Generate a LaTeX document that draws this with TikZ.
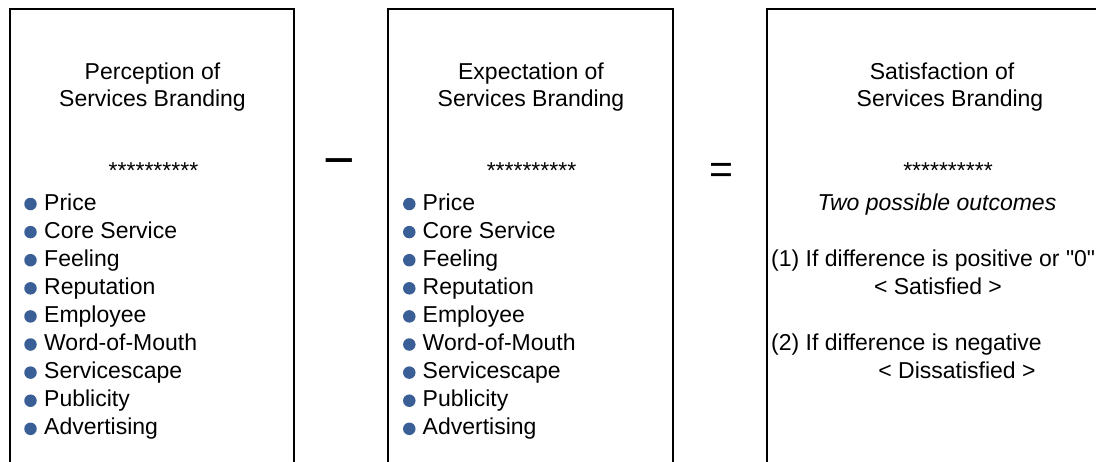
\documentclass[tikz,border=0pt]{standalone}
\usepackage{fontspec}
\setmainfont{Liberation Sans}[Ligatures=TeXOff]
\definecolor{bulletblue}{RGB}{58,95,150}
\begin{document}
\begin{tikzpicture}[x=1pt,y=-1pt,
  txt/.style={font=\fontsize{23}{27}\selectfont, inner sep=0pt, anchor=base},
  item/.style={txt, anchor=base west},
  bul/.style={circle, fill=bulletblue, minimum size=12.5pt, inner sep=0pt},
  frame/.style={line width=2.8pt, line join=miter},
  sym/.style={inner sep=0pt, anchor=north}]
\useasboundingbox (0,0) rectangle (1096,461);
% frames
\draw[frame] (10,466) -- (10,9) -- (294,9) -- (294,466);
\draw[frame] (388,466) -- (388,9) -- (673,9) -- (673,466);
\draw[frame] (767,466) -- (767,9) -- (1100,9);
% box 1
\node[txt] (p1) at (152.5,79) {Perception of};
\node[txt] (p2) at (152.5,106) {Services Branding};
\node[txt] (p3) at (153.5,178) {**********};
\foreach \t [count=\i from 0] in {Price,Core Service,Feeling,Reputation,Employee,Word-of-Mouth,Servicescape,Publicity,Advertising}{
  \node[bul] (pb\i) at (30.5,{204+28.1*\i}) {};
  \node[item] (pt\i) at (44,{210+28.1*\i}) {\t};
}
% minus
\node[sym, font=\fontsize{54}{54}\selectfont] (minus) at (339,158) {−};
% box 2
\node[txt] (e1) at (531,79) {Expectation of};
\node[txt] (e2) at (531,106) {Services Branding};
\node[txt] (e3) at (531.5,178) {**********};
\foreach \t [count=\i from 0] in {Price,Core Service,Feeling,Reputation,Employee,Word-of-Mouth,Servicescape,Publicity,Advertising}{
  \node[bul] (eb\i) at (409.3,{204+28.1*\i}) {};
  \node[item] (et\i) at (422.5,{210+28.1*\i}) {\t};
}
% equals
\node[sym, font=\fontsize{41}{41}\selectfont] (eq) at (721,163.3) {=};
% box 3
\node[txt] (s1) at (942,79) {Satisfaction of};
\node[txt] (s2) at (950,106) {Services Branding};
\node[txt] (s3) at (948,178) {**********};
\node[txt, font=\fontsize{23}{27}\selectfont\itshape] (s4) at (937,210) {Two possible outcomes};
\node[item] (s5) at (771,266.2) {(1) If difference is positive or "0"};
\node[txt] (s6) at (938,294.3) {< Satisfied >};
\node[item] (s7) at (771,350.5) {(2) If difference is negative};
\node[txt] (s8) at (957,378.6) {< Dissatisfied >};
\end{tikzpicture}
\end{document}
